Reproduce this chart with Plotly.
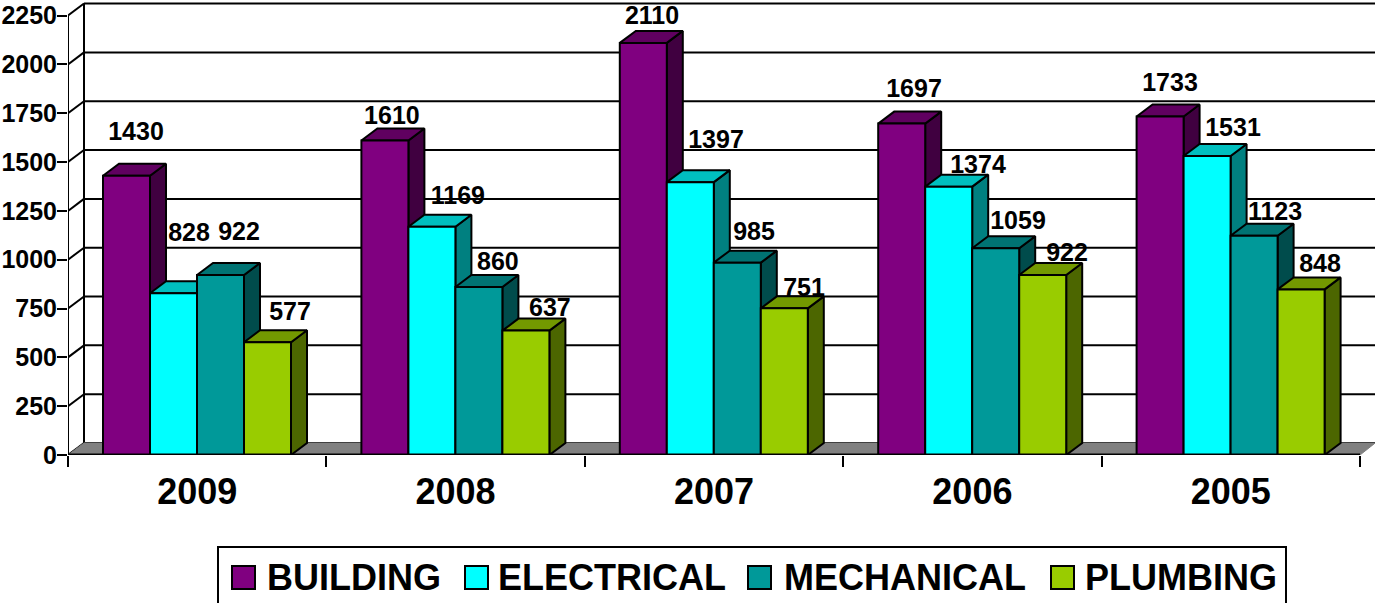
import plotly.graph_objects as go

years = ["2009", "2008", "2007", "2006", "2005"]
building = [1430, 1610, 2110, 1697, 1733]
electrical = [828, 1169, 1397, 1374, 1531]
mechanical = [922, 860, 985, 1059, 1123]
plumbing = [577, 637, 751, 922, 848]
series_names = ["BUILDING", "ELECTRICAL", "MECHANICAL", "PLUMBING"]
y_ticks = [0, 250, 500, 750, 1000, 1250, 1500, 1750, 2000, 2250]

series_values = [building, electrical, mechanical, plumbing]
front_colors = ["#800080", "#00FFFF", "#009999", "#99CC00"]
top_colors = ["#600060", "#00BFBF", "#007373", "#739900"]
side_colors = ["#400040", "#008080", "#004C4C", "#4C6600"]

# Scale of the drawing (pixels per data unit) and pseudo-3D depth in pixels
W, H = 1375, 603
LEFT, BASE = 68, 455
PX_X = 258.4
PX_Y = 0.1953
DX = 16 / PX_X
DY = 12 / PX_Y
BAR_W = 47 / PX_X
GROUP_PAD = 35 / PX_X
X0 = -0.5
X1 = X0 + len(years)
LABEL_DROP = 2.5

# Hand-placed label offsets from each bar's top centre, in pixels (per year, per series)
label_nudge = [
    [(9.5, 44.7), (15.5, 61), (18.5, 44), (22.5, 31)],
    [(7, 25.6), (26, 31.7), (19, 26), (24, 23.6)],
    [(8.7, 28), (25.7, 43), (16.7, 31.6), (19.7, 21)],
    [(12.3, 35.6), (29.3, 22.7), (22.3, 28), (24.3, 23)],
    [(9.9, 34.5), (25.9, 29), (20.9, 24.7), (18.9, 26.4)],
]

# Legend layout, in page pixels
LEGEND_BOX = (218, 547, 1286, 606)
LEGEND_SWATCH_X = [232, 465, 748, 1051]
LEGEND_TEXT_X = [265, 496, 782, 1083]
LEGEND_SWATCH = (566, 589)
LEGEND_TEXT_Y = 577

FONT = "Liberation Sans, Arial, sans-serif"
fig = go.Figure()


def page_x(px):
    return (px - LEFT) / (W - LEFT)


def page_y(py):
    return (BASE - py) / BASE


def poly(xs, ys, fill, width=2):
    fig.add_trace(go.Scatter(
        x=xs + xs[:1], y=ys + ys[:1], mode="lines", fill="toself", fillcolor=fill,
        line=dict(color="black", width=width), hoverinfo="skip", showlegend=False))


def seg(xs, ys, width=2, color="black"):
    fig.add_trace(go.Scatter(
        x=xs, y=ys, mode="lines", line=dict(color=color, width=width),
        hoverinfo="skip", showlegend=False))


# Back wall gridlines and slanted ticks on the side wall
x_end = X1 + DX * 0.95
for v in y_ticks:
    seg([X0 + DX, x_end], [v + DY, v + DY])
    seg([X0, X0 + DX], [v, v + DY])
seg([X0, X0], [0, y_ticks[-1]])
seg([X0 + DX, X0 + DX], [DY, y_ticks[-1] + DY])

# Floor
fig.add_trace(go.Scatter(
    x=[X0, X0 + DX, x_end, X1, X0], y=[0, DY, DY, 0, 0], mode="lines", fill="toself",
    fillcolor="#808080", line=dict(color="#808080", width=1),
    hoverinfo="skip", showlegend=False))

# Bars
for i in range(len(years)):
    for j, values in enumerate(series_values):
        v = values[i]
        x0 = X0 + i + GROUP_PAD + j * BAR_W
        x1 = x0 + BAR_W
        poly([x1, x1 + DX, x1 + DX, x1], [0, DY, v + DY, v], side_colors[j])
        poly([x0, x1, x1 + DX, x0 + DX], [v, v, v + DY, v + DY], top_colors[j])
        poly([x0, x1, x1, x0], [0, 0, v, v], front_colors[j])

# Front floor line
seg([X0, X1], [0, 0], width=3)

# Data labels
lx, ly, lt = [], [], []
for i in range(len(years)):
    for j, values in enumerate(series_values):
        v = values[i]
        ndx, ndy = label_nudge[i][j]
        lx.append(X0 + i + GROUP_PAD + (j + 0.5) * BAR_W + ndx / PX_X)
        ly.append(v + (ndy - LABEL_DROP) / PX_Y)
        lt.append(str(v))
fig.add_trace(go.Scatter(
    x=lx, y=ly, text=lt, mode="text", textposition="middle center",
    textfont=dict(family=FONT, size=25, color="black", weight="bold"),
    hoverinfo="skip", showlegend=False))

# Legend box, swatches and labels
bx0, by0, bx1, by1 = LEGEND_BOX
fig.add_shape(type="rect", xref="paper", yref="paper",
              x0=page_x(bx0), x1=page_x(bx1), y0=page_y(by0), y1=page_y(by1),
              line=dict(color="black", width=2), fillcolor="white")
for name, col, sx, tx in zip(series_names, front_colors, LEGEND_SWATCH_X, LEGEND_TEXT_X):
    fig.add_shape(type="rect", xref="paper", yref="paper",
                  x0=page_x(sx), x1=page_x(sx + 23),
                  y0=page_y(LEGEND_SWATCH[0]), y1=page_y(LEGEND_SWATCH[1]),
                  line=dict(color="black", width=2), fillcolor=col)
    fig.add_annotation(xref="paper", yref="paper", x=page_x(tx), y=page_y(LEGEND_TEXT_Y),
                       text=name, showarrow=False, xanchor="left", yanchor="middle",
                       font=dict(family=FONT, size=36, color="black", weight="bold"))

fig.update_layout(
    width=W, height=H, margin=dict(l=LEFT, r=0, t=0, b=H - BASE, autoexpand=False),
    paper_bgcolor="white", plot_bgcolor="white", showlegend=False,
    xaxis=dict(
        range=[X0, X0 + (W - LEFT) / PX_X], tickmode="array",
        tickvals=list(range(len(years))), ticktext=years,
        ticks="outside", ticklen=5, tickcolor="rgba(0,0,0,0)",
        tickfont=dict(family=FONT, size=36, color="black", weight="bold"),
        showgrid=False, zeroline=False, showline=False,
        minor=dict(tickmode="array", tickvals=[X0 + k for k in range(len(years) + 1)],
                   ticks="outside", ticklen=11, tickwidth=2, tickcolor="black", showgrid=False)),
    yaxis=dict(
        range=[0, BASE / PX_Y], tickmode="array", tickvals=y_ticks,
        ticks="outside", ticklen=10, tickwidth=2, tickcolor="black", ticklabelstandoff=-5,
        tickfont=dict(family=FONT, size=25, color="black", weight="bold"),
        showgrid=False, zeroline=False, showline=False),
)

fig.write_html("out.html", config={"displayModeBar": False},
               post_script="document.body.style.margin='0';document.body.style.overflow='hidden';")
